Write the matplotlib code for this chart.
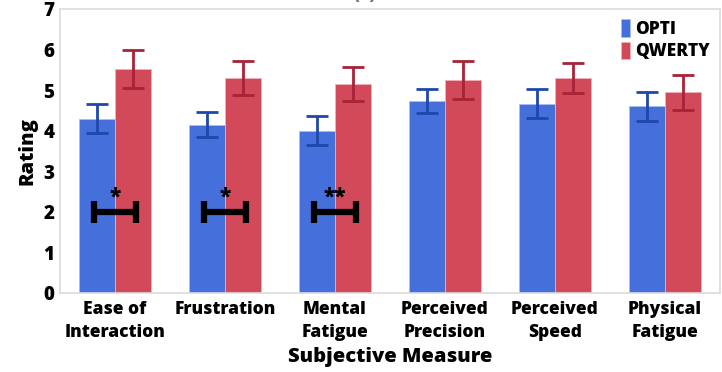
import matplotlib.pyplot as plt
import numpy as np

plt.rcParams['font.family'] = ['Open Sans', 'DejaVu Sans']
plt.rcParams['font.weight'] = 'heavy'

measures = ['Ease of\nInteraction', 'Frustration', 'Mental\nFatigue',
            'Perceived\nPrecision', 'Perceived\nSpeed', 'Physical\nFatigue']
opti_mean = [4.30, 4.15, 4.00, 4.73, 4.67, 4.60]
opti_err = [0.36, 0.30, 0.36, 0.29, 0.36, 0.35]
qwerty_mean = [5.52, 5.30, 5.15, 5.25, 5.30, 4.95]
qwerty_err = [0.46, 0.42, 0.42, 0.47, 0.38, 0.43]

# significant pairs: (group index, marker)
sig_groups = [0, 1, 2]
sig_marks = ['*', '*', '**']
sig_level = 2.0

blue, dark_blue = '#4570dc', '#1f47aa'
red, dark_red = '#d24a5a', '#a82238'
bold = 'heavy'

fig = plt.figure(figsize=(7.22, 3.72), dpi=100)
ax = fig.add_axes([60 / 722, 79 / 372, 660 / 722, 284 / 372])

x = np.arange(len(measures))
w = 0.327
ax.bar(x - w / 2, opti_mean, w, color=blue, edgecolor='#a9bdf0', linewidth=0.6,
       label='OPTI', zorder=2)
ax.bar(x + w / 2, qwerty_mean, w, color=red, edgecolor='#f0b0b8', linewidth=0.6,
       label='QWERTY', zorder=2)
ax.errorbar(x - w / 2, opti_mean, yerr=opti_err, fmt='none', ecolor=dark_blue,
            elinewidth=2, capsize=8, capthick=2, zorder=3)
ax.errorbar(x + w / 2, qwerty_mean, yerr=qwerty_err, fmt='none', ecolor=dark_red,
            elinewidth=2, capsize=8, capthick=2, zorder=3)

# significance brackets
for g, m in zip(sig_groups, sig_marks):
    ax.errorbar(x[g], sig_level, xerr=0.19, fmt='none', ecolor='black',
                elinewidth=4.5, capsize=8, capthick=4.5, zorder=4)
    ax.text(x[g], sig_level + 0.1, m, ha='center', va='bottom', fontsize=15,
            fontweight=bold, zorder=5)

ax.set_xlim(-0.5, 5.5)
ax.set_ylim(0, 7)
ax.set_yticks(range(8))
ax.set_xticks(x)
ax.set_xticklabels(measures, fontsize=12.5, fontweight=bold, linespacing=1.45)
ax.tick_params(axis='y', length=0, labelsize=13.5, pad=4)
ax.tick_params(axis='x', length=0, pad=6)
for lab in ax.get_yticklabels():
    lab.set_fontweight(bold)
for s in ax.spines.values():
    s.set_color('#dcdcdc')
    s.set_linewidth(1.2)

ax.set_ylabel('Rating', fontsize=14.5, fontweight=bold, labelpad=4)
ax.set_xlabel('Subjective Measure', fontsize=14.5, fontweight=bold, labelpad=4)

ax.legend(loc='upper right', bbox_to_anchor=(1.0, 1.0), frameon=False,
          handlelength=0.5, handleheight=1.2, handletextpad=0.3,
          labelspacing=0.2, borderaxespad=0.2,
          prop={'weight': bold, 'size': 12.5})

fig.text(0.505, 1 - 3 / 372, '(a)', ha='center', va='bottom', fontsize=12,
         color='#777777')

fig.savefig('out.png', dpi=100)
